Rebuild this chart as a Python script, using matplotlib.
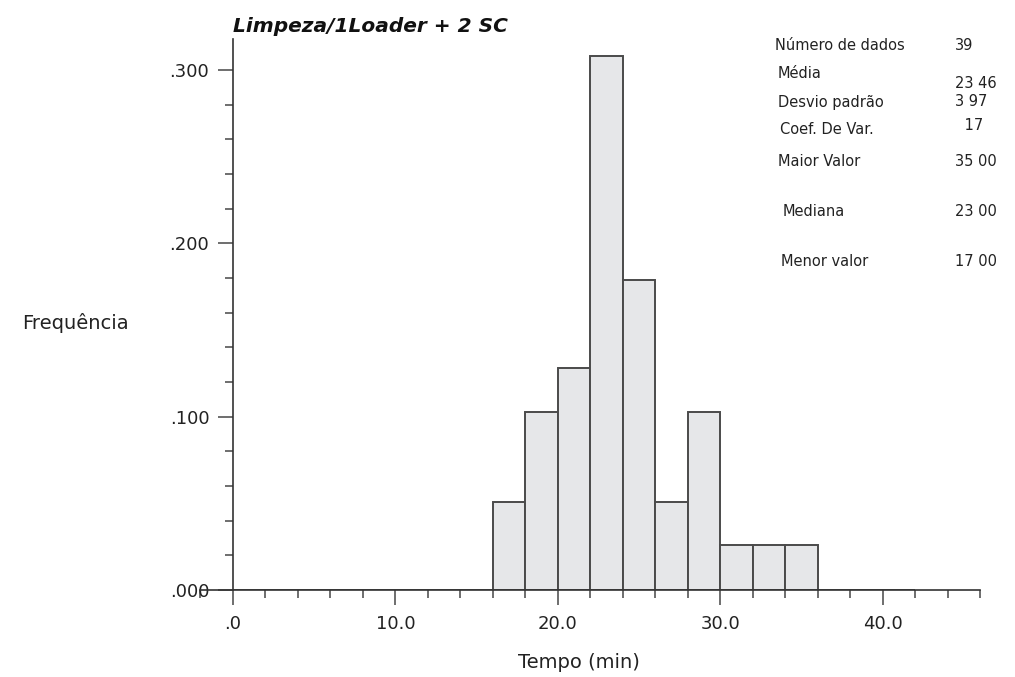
import matplotlib.pyplot as plt
from matplotlib.ticker import MultipleLocator, FixedLocator, FixedFormatter

# Histogram data (bin width 2 min)
bin_left = [0, 2, 4, 6, 8, 10, 12, 14, 16, 18, 20, 22, 24, 26, 28, 30, 32, 34, 36, 38, 40]
freq = [0, 0, 0, 0, 0, 0, 0, 0, 0.051, 0.103, 0.128, 0.308, 0.179, 0.051, 0.103,
        0.026, 0.026, 0.026, 0, 0, 0]

x_ticks = [0, 10, 20, 30, 40]
x_labels = [".0", "10.0", "20.0", "30.0", "40.0"]
y_ticks = [0, 0.1, 0.2, 0.3]
y_labels = [".000", ".100", ".200", ".300"]

stat_names = ["Número de dados", "Média", "Desvio padrão", "Coef. De Var.",
              "Maior Valor", "Mediana", "Menor valor"]
stat_values = ["39", "23 46", "3 97", " 17", "35 00", "23 00", "17 00"]

edge = "#4a4a4a"
fill = "#e6e7e9"
axis_col = "#333333"

fig = plt.figure(figsize=(10.15, 6.77), dpi=100)
ax = fig.add_axes([0.1975, 0.1285, 0.7685, 0.814])

ax.bar(bin_left, freq, width=2, align="edge", color=fill, edgecolor=edge, linewidth=1.4)

ax.set_xlim(-2, 46)
ax.set_ylim(0, 0.318)

# Spines
for s in ["top", "right"]:
    ax.spines[s].set_visible(False)
ax.spines["left"].set_position(("data", 0))
ax.spines["left"].set_color(axis_col)
ax.spines["left"].set_linewidth(1.2)
ax.spines["bottom"].set_color(axis_col)
ax.spines["bottom"].set_linewidth(1.2)

# Ticks
ax.xaxis.set_major_locator(FixedLocator(x_ticks))
ax.xaxis.set_major_formatter(FixedFormatter(x_labels))
ax.xaxis.set_minor_locator(MultipleLocator(2))
ax.yaxis.set_major_locator(FixedLocator(y_ticks))
ax.yaxis.set_major_formatter(FixedFormatter(y_labels))
ax.yaxis.set_minor_locator(MultipleLocator(0.02))

ax.tick_params(axis="both", which="major", direction="out", length=11, width=1.2,
               color="#555555", labelsize=13, labelcolor="#222222", pad=6)
ax.tick_params(axis="both", which="minor", direction="out", length=6, width=1.2,
               color="#555555")
ax.tick_params(axis="x", which="major", pad=7)

# Title and labels
ax.text(0, 1.005, "Limpeza/1Loader + 2 SC", transform=ax.get_xaxis_transform(),
        fontsize=14.5, fontweight="bold", fontstyle="italic", ha="left", va="bottom",
        family="DejaVu Sans", color="#111111")
fig.text(0.074, 0.523, "Frequência", fontsize=14, ha="center", va="center", color="#222222")
fig.text(0.57, 0.022, "Tempo (min)", fontsize=14, ha="center", va="center", color="#222222")

# Summary statistics block
name_pos = [(775, 46), (778, 74), (778, 102), (780, 130), (778, 161), (783, 212), (781, 261)]
val_pos = [(955, 45), (955, 83), (955, 102), (960, 126), (955, 161), (955, 212), (955, 261)]
for name, val, (nx, ny), (vx, vy) in zip(stat_names, stat_values, name_pos, val_pos):
    fig.text(nx / 1015, 1 - ny / 677, name, fontsize=10.5, ha="left", va="center", color="#222222")
    fig.text(vx / 1015, 1 - vy / 677, val, fontsize=10.5, ha="left", va="center", color="#222222")

fig.savefig("out.png", dpi=100)
